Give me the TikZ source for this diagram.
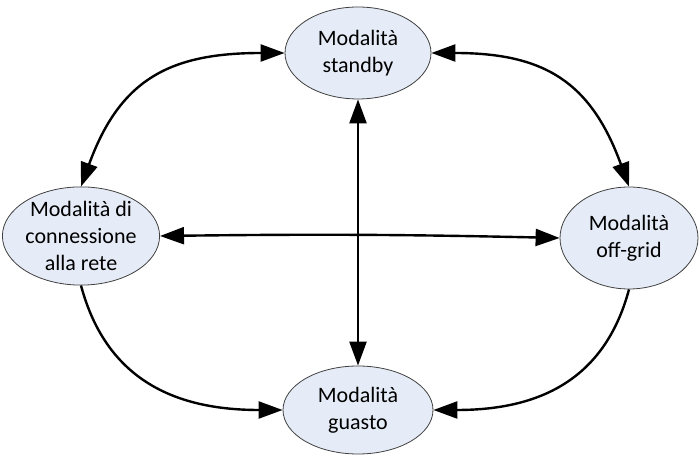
\documentclass[tikz,border=0pt]{standalone}
\usepackage{fontspec}
\setmainfont{Carlito}
\usetikzlibrary{arrows.meta,shapes.geometric}
\definecolor{modefill}{HTML}{E6ECF7}
\begin{document}
\begin{tikzpicture}[x=1pt, y=1pt, >={Triangle[length=24pt,width=17pt]},
  mode/.style={ellipse, draw=black!75, line width=0.8pt, fill=modefill,
    inner sep=0pt, align=center, font=\fontsize{22pt}{27pt}\selectfont},
  link/.style={line width=2.4pt}]
\useasboundingbox (0,0) rectangle (700,462);

\node[mode, minimum width=146pt, minimum height=92pt] (standby) at (358,409) {Modalità\\standby};
\node[mode, minimum width=150pt, minimum height=98pt] (rete) at (81,226) {Modalità di\\connessione\\alla rete};
\node[mode, minimum width=138pt, minimum height=102pt] (offgrid) at (629,224) {Modalità\\off-grid};
\node[mode, minimum width=150pt, minimum height=88pt] (guasto) at (358,52) {Modalità\\guasto};

\begin{scope}[link]
  \draw[<->] (standby.west) to[out=180, in=70, looseness=1.2] (rete.north);
  \draw[<->] (standby.east) to[out=0, in=110, looseness=1.2] (offgrid.north);
  \draw[<->] (rete.east) to[bend left=1] (offgrid.west);
  \draw[<->] (standby.south) -- (guasto.north);
  \draw[->] (rete.south) to[out=-75, in=180, looseness=1.1] (guasto.west);
  \draw[->] (offgrid.south) to[out=-105, in=0, looseness=1.1] (guasto.east);
\end{scope}
\end{tikzpicture}
\end{document}
